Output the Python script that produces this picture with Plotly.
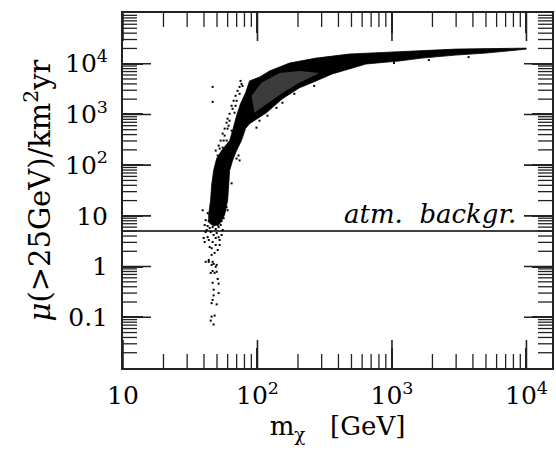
import plotly.graph_objects as go

# ---- data ----
# dense band outline (m_chi [GeV], mu [/km^2 yr]), traced around the black region
band_x = [10000, 2979, 950, 480, 273, 173, 123, 104, 87.3,
          81.5, 74.8, 69.9, 65.3, 62.1, 54.1, 49.7, 47.2, 45.6, 44.8, 43.4, 43.4,
          47.2, 52.3, 57.0,
          60.0, 61.0, 62.1, 65.3, 69.9, 76.0, 81.5, 87.3,
          116.6, 153, 205, 273, 359, 480, 641, 1127, 1668, 2976, 4966, 10000]
band_y = [20300, 19400, 16900, 15500, 12900, 10300, 7190, 5480, 4580,
          2660, 1620, 944, 479, 305, 194, 135, 78.7, 40, 20.3, 10.9, 7.5,
          6.3, 6.9, 10.5,
          20.3, 40, 78.7, 124, 194, 305, 525, 657,
          1080, 2030, 3340, 4580, 6280, 7870, 9870, 11300, 12900, 14800, 16200, 19400]

# less dense (speckled) part inside the band
sparse_x = [90.3, 107, 145.6, 205, 288, 205, 153, 113, 95]
sparse_y = [2330, 4190, 6580, 7190, 6580, 4190, 2660, 1480, 1080]

# individual model points outside the dense band
pts_x = [41.2, 43.4, 45.6, 47.2, 48.9, 46.4, 48.0, 49.7, 44.9, 50.6, 46.4, 51.4,
         47.2, 47.2, 51.4, 46.4, 49.7, 45.6, 48.0, 45.6, 44.9, 47.2,
         39.1, 41.2, 40.5, 39.8, 40.5, 42.6, 44.1, 46.4, 48.9, 50.6, 48.0, 45.6,
         52.3, 54.1, 55.1, 41.9, 44.1, 49.7, 51.4, 46.4, 42.6, 58.9, 59.9, 64.2,
         46.4, 49.7, 43.4,
         44.9, 47.2, 49.7, 52.3, 54.1, 48.0, 45.6, 43.4, 50.6, 53.2, 48.9, 44.9,
         47.2, 51.4, 43.4, 52.3, 45.6, 48.9, 42.6, 56.0, 41.2,
         46.4, 46.4, 76.1, 77.4, 73.6, 69.9, 65.3, 67.5, 62.0, 58.9, 59.9, 64.2,
         57.0, 58.9, 55.1, 57.9, 54.1, 69.9, 73.6, 72.3, 103.5, 98.3, 65.3,
         118.6, 138.3, 153.2, 188, 264, 1035, 1879, 3715,
         48.9, 51.4, 53.2, 55.1, 57.0, 59.9, 62.0, 64.2, 66.4, 68.7, 71.1, 73.6,
         74.8, 68.7, 61.0, 56.0, 52.3, 50.6]
pts_y = [1.24, 1.24, 1.08, 1.13, 0.99, 0.82, 0.75, 0.79, 0.75, 0.57, 0.48, 0.46,
         0.35, 0.27, 0.30, 0.22, 0.18, 0.19, 0.108, 0.103, 0.086, 0.072,
         12.9, 8.24, 6.58, 3.66, 3.05, 3.82, 2.43, 3.05, 2.67, 2.12, 1.86, 1.70,
         3.34, 4.19, 5.25, 5.25, 5.74, 4.58, 6.00, 6.00, 11.3, 14.8, 12.9, 43.8,
         1.24, 1.08, 1.35,
         10.5, 9.2, 10.0, 8.8, 7.9, 7.9, 7.1, 7.9, 6.58, 6.6, 5.5, 4.8,
         4.2, 3.8, 3.34, 2.67, 2.3, 3.66, 6.3, 9.0, 4.8,
         3490, 1770, 4000, 3650, 2550, 1860, 1290, 1080, 752, 687, 525, 479,
         382, 305, 222, 194, 169, 135, 124, 155, 752, 548, 194,
         944, 1350, 1700, 2550, 3650, 10300, 11800, 13500,
         194, 243, 305, 419, 525, 824, 1030, 1480, 1860, 2330, 2920, 3490,
         4580, 1480, 600, 305, 212, 155]

atm_background = 5.0

x_tickvals = [10, 100, 1000, 10000]
x_ticktext = ["10", "10<sup>2</sup>", "10<sup>3</sup>", "10<sup>4</sup>"]
y_tickvals = [0.1, 1, 10, 100, 1000, 10000]
y_ticktext = ["0.1", "1", "10", "10<sup>2</sup>", "10<sup>3</sup>", "10<sup>4</sup>"]

XR = [1, 4.19]
YR = [-2, 5]
lo_x, hi_x = 10 ** XR[0], 10 ** XR[1]
lo_y, hi_y = 10 ** YR[0], 10 ** YR[1]

x_minor = [m * 10 ** e for e in range(1, 5) for m in range(2, 10) if m * 10 ** e < hi_x]
y_minor = [m * 10.0 ** e for e in range(-2, 5) for m in range(2, 10)]

FONT = "DejaVu Serif"
AX = "#222"
MAJ, MIN = 20, 10  # tick lengths in px

fig = go.Figure()
fig.add_trace(go.Scatter(x=band_x, y=band_y, mode="lines", fill="toself",
                         fillcolor="black", line=dict(color="black", width=0.8),
                         hoverinfo="skip", showlegend=False))
fig.add_trace(go.Scatter(x=sparse_x, y=sparse_y, mode="lines", fill="toself",
                         fillcolor="#3c3c3c", line=dict(color="#3c3c3c", width=0),
                         hoverinfo="skip", showlegend=False))
fig.add_trace(go.Scatter(x=pts_x, y=pts_y, mode="markers",
                         marker=dict(color="black", size=2, symbol="square"),
                         showlegend=False))

# atmospheric background level across the whole mass range
fig.add_trace(go.Scatter(x=[lo_x, hi_x], y=[atm_background, atm_background],
                         mode="lines", line=dict(color="black", width=1.5),
                         hoverinfo="skip", showlegend=False))


# inside ticks on all four sides: line markers centred on the frame,
# the outer half is clipped away by the plot area
def xtick_markers(vals, length, width):
    n = len(vals)
    fig.add_trace(go.Scatter(
        x=list(vals) * 2, y=[lo_y] * n + [hi_y] * n, mode="markers", cliponaxis=True,
        marker=dict(symbol="line-ns-open", size=2 * length, color=AX,
                    line=dict(color=AX, width=width)),
        hoverinfo="skip", showlegend=False))


def ytick_markers(vals, length, width):
    n = len(vals)
    fig.add_trace(go.Scatter(
        y=list(vals) * 2, x=[lo_x] * n + [hi_x] * n, mode="markers", cliponaxis=True,
        marker=dict(symbol="line-ew-open", size=2 * length, color=AX,
                    line=dict(color=AX, width=width)),
        hoverinfo="skip", showlegend=False))


xtick_markers(x_tickvals, MAJ, 1.6)
xtick_markers(x_minor, MIN, 1.3)
ytick_markers(y_tickvals, MAJ, 1.6)
ytick_markers(y_minor, MIN, 1.3)

fig.add_annotation(x=3.94, y=0.699, xref="x", yref="y", text="<i>atm.  backgr.</i>",
                   showarrow=False, xanchor="right", yanchor="bottom", yshift=0,
                   font=dict(family=FONT, size=26, color="black"))

common = dict(type="log", showgrid=False, zeroline=False,
              showline=True, linecolor=AX, linewidth=2, mirror="allticks",
              ticks="inside", ticklen=MAJ, tickwidth=1.6, tickcolor=AX,
              tickfont=dict(family=FONT, size=25, color="black"))

fig.update_layout(
    width=556, height=457, margin=dict(l=123, r=2, t=13, b=89),
    paper_bgcolor="white", plot_bgcolor="white",
    xaxis=dict(**common, range=XR, tickmode="array", tickvals=x_tickvals, ticktext=x_ticktext,
               ticklabelstandoff=4,
               title=dict(text="m<sub>χ</sub>   [GeV]",
                          font=dict(family=FONT, size=26, color="black"), standoff=8)),
    yaxis=dict(**common, range=YR, tickmode="array", tickvals=y_tickvals, ticktext=y_ticktext,
               ticklabelstandoff=8,
               title=dict(text="<i>μ</i>(>25GeV)/km<sup>2</sup>yr",
                          font=dict(family=FONT, size=29, color="black"), standoff=6)),
)

fig.write_html("out.html")
